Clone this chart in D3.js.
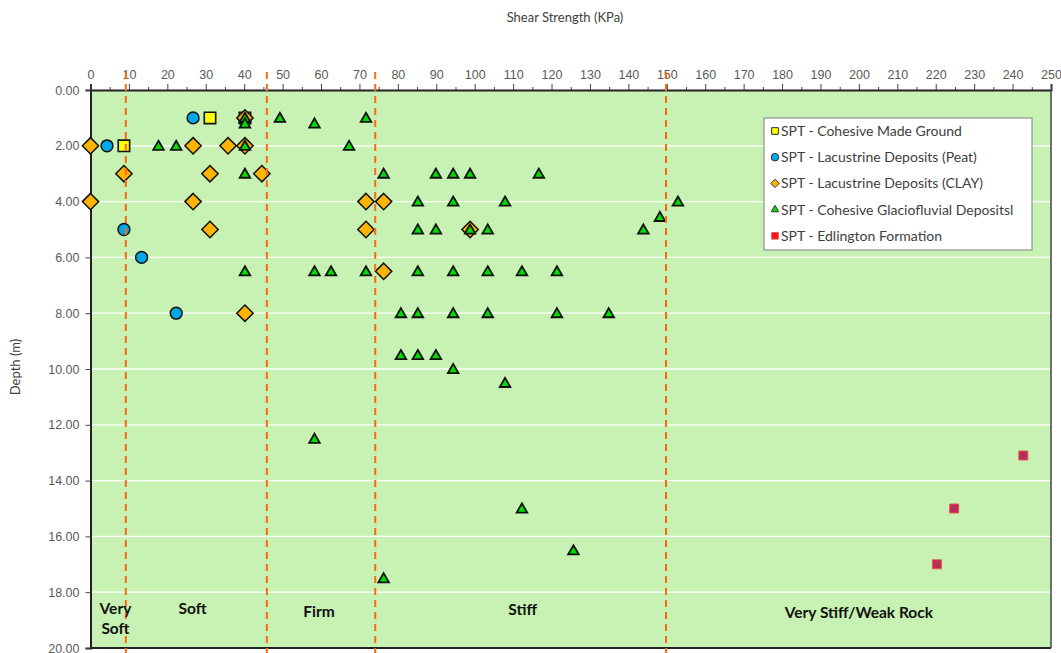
<!DOCTYPE html>
<html lang="en">
<head>
  <meta charset="UTF-8">
  <title>Shear Strength vs Depth</title>
  <script src="https://d3js.org/d3.v7.min.js"></script>
  <style>
    body, html { margin: 0; padding: 0; background: #fff; }
    svg { display: block; font-family: "Lato", "Noto Sans", sans-serif; }
    .tick text { fill: #595959; font-size: 12.5px; }
    .zone-label { font-weight: bold; font-size: 15.5px; fill: #111; }
    .legend-text { font-size: 14px; fill: #404040; }
  </style>
</head>
<body>
  <svg id="chart" width="1061" height="653"></svg>
  <script>
    // data (shear strength kPa, depth m)
    const madeGroundX = [31.1, 8.7, 40.2];
    const madeGroundY = [1.0, 2.0, 1.0];

    const peatX = [26.7, 4.3, 8.7, 13.3, 22.3];
    const peatY = [1.0, 2.0, 5.0, 6.0, 8.0];

    const clayX = [40.2, 0, 26.7, 35.8, 40.2, 8.7, 31.1, 44.6, 0, 26.7, 71.7, 76.3, 31.1, 71.7, 98.8, 76.3, 40.2];
    const clayY = [1.0, 2.0, 2.0, 2.0, 2.0, 3.0, 3.0, 3.0, 4.0, 4.0, 4.0, 4.0, 5.0, 5.0, 5.0, 6.5, 8.0];

    const glacioX = [40.2, 49.3, 71.7, 40.2, 58.3,
      17.7, 22.3, 40.2, 67.3,
      40.2, 76.3, 89.9, 94.4, 98.8, 116.7,
      85.2, 94.4, 107.9, 152.9, 148.2,
      85.2, 89.9, 98.8, 103.4, 143.9,
      40.2, 58.3, 62.6, 71.7, 85.2, 94.4, 103.4, 112.3, 121.4,
      80.8, 85.2, 94.4, 103.4, 121.4, 134.9,
      80.8, 85.2, 89.9, 94.4, 107.9, 58.3, 112.3, 125.7, 76.3];
    const glacioY = [1.0, 1.0, 1.0, 1.2, 1.2,
      2.0, 2.0, 2.0, 2.0,
      3.0, 3.0, 3.0, 3.0, 3.0, 3.0,
      4.0, 4.0, 4.0, 4.0, 4.55,
      5.0, 5.0, 5.0, 5.0, 5.0,
      6.5, 6.5, 6.5, 6.5, 6.5, 6.5, 6.5, 6.5, 6.5,
      8.0, 8.0, 8.0, 8.0, 8.0, 8.0,
      9.5, 9.5, 9.5, 10.0, 10.5, 12.5, 15.0, 16.5, 17.5];

    const edlingtonX = [242.8, 224.8, 220.3];
    const edlingtonY = [13.1, 15.0, 17.0];

    const legendLabels = [
      "SPT - Cohesive Made Ground",
      "SPT - Lacustrine Deposits (Peat)",
      "SPT - Lacustrine Deposits (CLAY)",
      "SPT - Cohesive Glaciofluvial Depositsl",
      "SPT - Edlington Formation"
    ];

    const xTicks = d3.range(0, 251, 10);
    const yTicks = d3.range(0, 21, 2);
    const boundaryX = [9.2, 45.9, 74.1, 149.8];
    const zoneLabels = [
      { text: ["Very", "Soft"], x: 6.5, y: 18.6 },
      { text: ["Soft"], x: 26.6, y: 18.6 },
      { text: ["Firm"], x: 59.5, y: 18.7 },
      { text: ["Stiff"], x: 112.5, y: 18.65 },
      { text: ["Very Stiff/Weak Rock"], x: 200, y: 18.75 }
    ];

    const svg = d3.select("#chart");
    const plotLeft = 90.5, plotRight = 1051, plotTop = 90, plotBottom = 648;

    const x = d3.scaleLinear().domain([0, 250]).range([plotLeft, plotRight]);
    const y = d3.scaleLinear().domain([0, 20]).range([plotTop, plotBottom]);

    // plot background
    svg.append("rect")
      .attr("x", plotLeft).attr("y", plotTop)
      .attr("width", plotRight - plotLeft).attr("height", plotBottom - plotTop)
      .attr("fill", "#c7f2b3");

    // horizontal gridlines
    svg.append("g").selectAll("line")
      .data(yTicks.slice(1, -1))
      .enter().append("line")
      .attr("x1", plotLeft).attr("x2", plotRight)
      .attr("y1", d => y(d)).attr("y2", d => y(d))
      .attr("stroke", "#ffffff").attr("stroke-width", 1.3);

    // top axis with minor ticks
    const xAxis = d3.axisTop(x).tickValues(xTicks).tickFormat(d3.format("d")).tickSize(6).tickPadding(5);
    const gx = svg.append("g").attr("transform", `translate(0,${plotTop})`).call(xAxis);
    gx.select(".domain").attr("stroke", "#222").attr("stroke-width", 2);
    gx.selectAll(".tick line").attr("stroke", "#444");
    svg.append("g").attr("transform", `translate(0,${plotTop})`)
      .call(d3.axisTop(x).tickValues(d3.range(5, 250, 10)).tickFormat("").tickSize(3))
      .call(g => g.select(".domain").remove())
      .selectAll(".tick line").attr("stroke", "#444");

    // left axis
    const yAxis = d3.axisLeft(y).tickValues(yTicks).tickFormat(d3.format(".2f")).tickSize(5).tickPadding(6);
    const gy = svg.append("g").attr("transform", `translate(${plotLeft},0)`).call(yAxis);
    gy.select(".domain").attr("stroke", "#222").attr("stroke-width", 2);
    gy.selectAll(".tick line").attr("stroke", "#444");

    // bottom / right frame
    svg.append("line").attr("x1", plotLeft).attr("x2", plotRight).attr("y1", plotBottom).attr("y2", plotBottom)
      .attr("stroke", "#222").attr("stroke-width", 2);
    svg.append("line").attr("x1", plotRight).attr("x2", plotRight).attr("y1", plotTop).attr("y2", plotBottom)
      .attr("stroke", "#444").attr("stroke-width", 1.5);

    // axis titles
    svg.append("text").attr("x", 565).attr("y", 22).attr("text-anchor", "middle")
      .attr("font-size", 13).attr("fill", "#404040").text("Shear Strength (KPa)");
    svg.append("text").attr("transform", "translate(20,367) rotate(-90)").attr("text-anchor", "middle")
      .attr("font-size", 13).attr("fill", "#404040").text("Depth (m)");

    const zip = (xs, ys) => xs.map((v, i) => ({ x: v, y: ys[i] }));
    const series = [
      { data: zip(madeGroundX, madeGroundY), symbol: d3.symbolSquare, size: 130, fill: "#ffff00", stroke: "#111", sw: 1.6 },
      { data: zip(peatX, peatY), symbol: d3.symbolCircle, size: 110, fill: "#00a8e8", stroke: "#111", sw: 1.5 },
      { data: zip(clayX, clayY), symbol: d3.symbolDiamond2, size: 170, fill: "#ffb400", stroke: "#111", sw: 1.5 },
      { data: zip(glacioX, glacioY), symbol: d3.symbolTriangle2, size: 80, fill: "#00dd00", stroke: "#111", sw: 1.8 },
      { data: zip(edlingtonX, edlingtonY), symbol: d3.symbolSquare, size: 80, fill: "#ff1010", stroke: "#d06060", sw: 1, cross: true }
    ];

    const plot = svg.append("g");
    series.forEach(s => {
      const g = plot.append("g");
      g.selectAll("path")
        .data(s.data)
        .enter().append("path")
        .attr("transform", d => `translate(${x(d.x)},${y(d.y) + (s.symbol === d3.symbolTriangle2 ? 1 : 0)})`)
        .attr("d", d3.symbol(s.symbol, s.size))
        .attr("fill", s.fill).attr("stroke", s.stroke).attr("stroke-width", s.sw);
      if (s.cross) {
        g.selectAll("path.x")
          .data(s.data)
          .enter().append("path").attr("class", "x")
          .attr("transform", d => `translate(${x(d.x)},${y(d.y)})`)
          .attr("d", "M-3.5,-3.5L3.5,3.5M-3.5,3.5L3.5,-3.5")
          .attr("stroke", "#6a4aa8").attr("stroke-width", 1.4).attr("fill", "none");
      }
    });

    // consistency boundaries
    svg.append("g").selectAll("line")
      .data(boundaryX)
      .enter().append("line")
      .attr("x1", d => x(d)).attr("x2", d => x(d))
      .attr("y1", plotTop - 18).attr("y2", plotBottom + 6)
      .attr("stroke", "#ff6a10").attr("stroke-width", 2).attr("stroke-dasharray", "7,5");

    // zone labels
    zoneLabels.forEach(z => {
      const t = svg.append("text").attr("class", "zone-label").attr("text-anchor", "middle")
        .attr("x", x(z.x)).attr("y", y(z.y) + 5);
      z.text.forEach((line, i) => {
        t.append("tspan").attr("x", x(z.x)).attr("dy", i === 0 ? 0 : 20).text(line);
      });
    });

    // legend
    const legend = svg.append("g").attr("transform", "translate(764,118)");
    legend.append("rect").attr("width", 268).attr("height", 132)
      .attr("fill", "#ffffff").attr("stroke", "#7f7f7f").attr("stroke-width", 1);
    const legendSizes = [45, 45, 45, 40, 45];
    series.forEach((s, i) => {
      const row = legend.append("g").attr("transform", `translate(0,${13 + i * 26.2})`);
      row.append("path").attr("transform", "translate(11,0)")
        .attr("d", d3.symbol(s.symbol, legendSizes[i]))
        .attr("fill", s.fill).attr("stroke", s.cross ? "#d06060" : "#333").attr("stroke-width", 1);
      row.append("text").attr("class", "legend-text").attr("x", 17).attr("y", 5).text(legendLabels[i]);
    });
  </script>
</body>
</html>
